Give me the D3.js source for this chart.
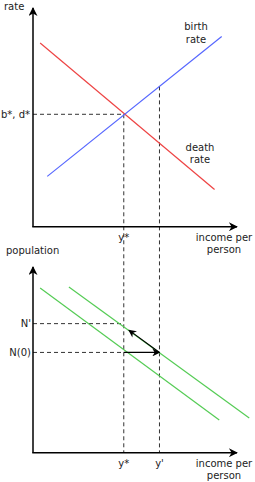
<!DOCTYPE html>
<html>
<head>
<meta charset="utf-8">
<script src="https://cdn.jsdelivr.net/npm/d3@7"></script>
<style>
  body { margin: 0; background: #fff; }
  text { font-family: "DejaVu Sans", sans-serif; font-size: 10px; fill: #222; }
</style>
</head>
<body>
<div id="chart"></div>
<script>
// income per person (0-100 units), shared by both panels
const incomeMarks = [{ label: "y*", value: 44.5 }, { label: "y'", value: 62 }]

// top panel: rate lines [x, rate]
const birthRate = [[7, 23], [92.5, 87]]
const deathRate = [[3.5, 84], [89, 17]]
const bdStar = 51.4

// bottom panel: population lines [x, population]
const popLine1 = [[3.5, 88.7], [91.3, 17.6]]
const popLine2 = [[17.6, 89.2], [106, 18.7]]
const popMarks = [{ label: "N'", value: 69.5 }, { label: "N(0)", value: 54 }]

const width = 255, height = 482

const svg = d3.select("#chart").append("svg")
    .attr("width", width)
    .attr("height", height)

const x = d3.scaleLinear().domain([0, 100]).range([33, 237])
const yTop = d3.scaleLinear().domain([0, 100]).range([226.7, 8])
const yBot = d3.scaleLinear().domain([0, 100]).range([452.7, 267])

// arrow heads
const defs = svg.append("defs")
defs.append("marker")
    .attr("id", "head")
    .attr("viewBox", "0 0 10 10")
    .attr("refX", 9).attr("refY", 5)
    .attr("markerWidth", 9).attr("markerHeight", 8)
    .attr("markerUnits", "userSpaceOnUse")
    .attr("orient", "auto")
    .append("path")
    .attr("d", "M0,0 L10,5 L0,10 L3,5 Z")
    .attr("fill", "#000")
defs.append("marker")
    .attr("id", "axhead")
    .attr("viewBox", "0 0 10 10")
    .attr("refX", 9).attr("refY", 5)
    .attr("markerWidth", 10).attr("markerHeight", 9)
    .attr("markerUnits", "userSpaceOnUse")
    .attr("orient", "auto")
    .append("path")
    .attr("d", "M0,0 L10,5 L0,10 L3,5 Z")
    .attr("fill", "#000")

const line = (ys) => d3.line().x(d => x(d[0])).y(d => ys(d[1]))

function dashed(x1, y1, x2, y2) {
    svg.append("line")
        .attr("x1", x1).attr("y1", y1).attr("x2", x2).attr("y2", y2)
        .attr("stroke", "#333")
        .attr("stroke-width", 1)
        .attr("stroke-dasharray", "4,3")
}

function axes(ys, yLabel, yLabelX, yLabelY) {
    svg.append("path")
        .attr("d", `M${x(0)},${ys(0)} L${x(0)},${ys(100)}`)
        .attr("stroke", "#000").attr("stroke-width", 1.5).attr("fill", "none")
        .attr("marker-end", "url(#axhead)")
    svg.append("path")
        .attr("d", `M${x(0) - 0.75},${ys(0)} L${x(100)},${ys(0)}`)
        .attr("stroke", "#000").attr("stroke-width", 1.5).attr("fill", "none")
        .attr("marker-end", "url(#axhead)")
    svg.append("text").attr("x", yLabelX).attr("y", yLabelY).text(yLabel)
    const xl = svg.append("text").attr("text-anchor", "middle")
    xl.append("tspan").attr("x", 224).attr("y", ys(0) + 14).text("income per")
    xl.append("tspan").attr("x", 224).attr("y", ys(0) + 26).text("person")
}

// dashed guides
dashed(x(0), yTop(bdStar), x(incomeMarks[0].value), yTop(bdStar))
const blueAtY1 = birthRate[0][1] + (birthRate[1][1] - birthRate[0][1]) / (birthRate[1][0] - birthRate[0][0]) * (incomeMarks[1].value - birthRate[0][0])
dashed(x(incomeMarks[0].value), yTop(bdStar), x(incomeMarks[0].value), yBot(0))
dashed(x(incomeMarks[1].value), yTop(blueAtY1), x(incomeMarks[1].value), yBot(0))
popMarks.forEach(m => dashed(x(0), yBot(m.value), x(incomeMarks[0].value), yBot(m.value)))

// top panel
axes(yTop, "rate", 4, 10)
svg.append("path").datum(deathRate).attr("d", line(yTop))
    .attr("stroke", "#ee4444").attr("stroke-width", 1.2).attr("fill", "none")
svg.append("path").datum(birthRate).attr("d", line(yTop))
    .attr("stroke", "#5566ff").attr("stroke-width", 1.2).attr("fill", "none")

const bl = svg.append("text").attr("text-anchor", "middle")
bl.append("tspan").attr("x", 196).attr("y", 30).text("birth")
bl.append("tspan").attr("x", 196).attr("y", 43).text("rate")
const dl = svg.append("text").attr("text-anchor", "middle")
dl.append("tspan").attr("x", 200).attr("y", 151).text("death")
dl.append("tspan").attr("x", 200).attr("y", 163).text("rate")

svg.append("text").attr("x", 30).attr("y", yTop(bdStar) + 3.5)
    .attr("text-anchor", "end").text("b*, d*")
svg.append("text").attr("x", x(incomeMarks[0].value)).attr("y", yTop(0) + 14)
    .attr("text-anchor", "middle").text(incomeMarks[0].label)

// bottom panel
axes(yBot, "population", 6, 254)
;[popLine1, popLine2].forEach(d => {
    svg.append("path").datum(d).attr("d", line(yBot))
        .attr("stroke", "#55cc55").attr("stroke-width", 1.2).attr("fill", "none")
})

popMarks.forEach(m => {
    svg.append("text").attr("x", 31).attr("y", yBot(m.value) + 3.5)
        .attr("text-anchor", "end").text(m.label)
})
incomeMarks.forEach(m => {
    svg.append("text").attr("x", x(m.value)).attr("y", yBot(0) + 14)
        .attr("text-anchor", "middle").text(m.label)
})

// adjustment arrows
const y0 = incomeMarks[0].value, y1 = incomeMarks[1].value
svg.append("path")
    .attr("d", `M${x(y0)},${yBot(popMarks[1].value)} L${x(y1)},${yBot(popMarks[1].value)}`)
    .attr("stroke", "#000").attr("stroke-width", 1.2).attr("fill", "none")
    .attr("marker-end", "url(#head)")
svg.append("path")
    .attr("d", `M${x(y1)},${yBot(popMarks[1].value)} L${x(y0 + 2.5)},${yBot(popMarks[0].value - 3.5)}`)
    .attr("stroke", "#000").attr("stroke-width", 1.2).attr("fill", "none")
    .attr("marker-end", "url(#head)")
</script>
</body>
</html>
